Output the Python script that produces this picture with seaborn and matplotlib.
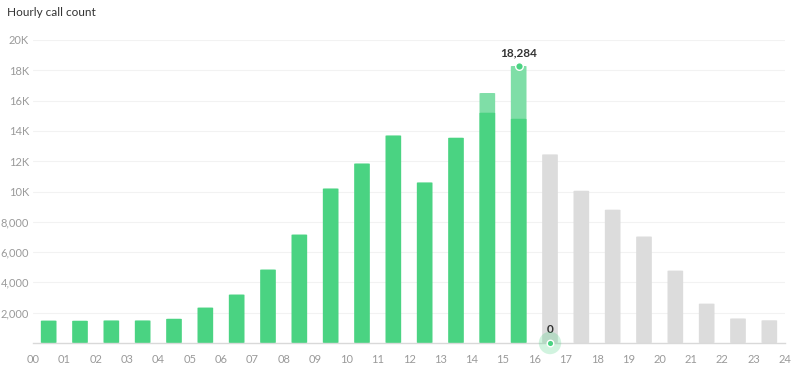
import numpy as np
import pandas as pd
import seaborn as sns
import matplotlib.pyplot as plt
from matplotlib.patches import FancyBboxPatch

# hourly values
hours_actual = list(range(0, 16))
actual = [1480, 1470, 1490, 1490, 1600, 2340, 3200, 4850, 7160, 10200,
          11850, 13700, 10600, 13550, 15200, 14800]
hours_partial = [14, 15]
partial_total = [16500, 18284]
hours_forecast = list(range(16, 24))
forecast = [12450, 10050, 8800, 7030, 4780, 2600, 1620, 1500]

current_hour = 16
current_value = 0
peak_hour = 15
peak_value = 18284

x_ticks = list(range(0, 25))
x_labels = [f"{h:02d}" for h in x_ticks]
y_ticks = [2000, 4000, 6000, 8000, 10000, 12000, 14000, 16000, 18000, 20000]
y_labels = ["2,000", "4,000", "6,000", "8,000", "10K", "12K", "14K", "16K", "18K", "20K"]

green = "#4ad382"
light_green = "#7fdea7"
grey = "#dcdcdc"

sns.set_style("white")
plt.rcParams['font.family'] = ['Lato', 'DejaVu Sans']

fig = plt.figure(figsize=(7.94, 3.65), dpi=100)
ax = fig.add_axes([33 / 794, 1 - 343 / 365, 752 / 794, 303 / 365])

df_a = pd.DataFrame({"hour": np.array(hours_actual) + 0.5, "calls": actual})
df_p = pd.DataFrame({"hour": np.array(hours_partial) + 0.5, "calls": partial_total})
df_f = pd.DataFrame({"hour": np.array(hours_forecast) + 0.5, "calls": forecast})

sns.barplot(data=df_f, x="hour", y="calls", native_scale=True, width=0.5,
            color=grey, saturation=1, ax=ax)
sns.barplot(data=df_p, x="hour", y="calls", native_scale=True, width=0.5,
            color=light_green, saturation=1, ax=ax)
sns.barplot(data=df_a, x="hour", y="calls", native_scale=True, width=0.5,
            color=green, saturation=1, ax=ax)

# rounded bar tops
for p in list(ax.patches):
    x, y = p.get_x(), p.get_y()
    w, h = p.get_width(), p.get_height()
    fc = p.get_facecolor()
    p.remove()
    ax.add_patch(FancyBboxPatch((x, y), w, h, boxstyle="round,pad=0,rounding_size=0.06",
                                mutation_aspect=400, fc=fc, ec="none", zorder=2))

# peak marker
ax.scatter([peak_hour + 0.5], [peak_value], s=30, color=green, edgecolor="white",
           linewidth=1, zorder=5, clip_on=False)
ax.text(peak_hour + 0.5, peak_value + 500, f"{peak_value:,}", ha="center", va="bottom",
        fontsize=8.5, fontweight="bold", color="#333333")

# current hour marker
ax.scatter([current_hour + 0.5], [current_value], s=260, color=green, alpha=0.25,
           edgecolor="none", zorder=4, clip_on=False)
ax.scatter([current_hour + 0.5], [current_value], s=22, color=green, edgecolor="white",
           linewidth=1, zorder=5, clip_on=False)
ax.text(current_hour + 0.5, current_value + 500, f"{current_value}", ha="center", va="bottom",
        fontsize=8.5, fontweight="bold", color="#333333")

ax.set_xlim(0, 24)
ax.set_ylim(0, 20000)
ax.set_xticks(x_ticks)
ax.set_xticklabels(x_labels)
ax.set_yticks(y_ticks)
ax.set_yticklabels(y_labels)
ax.set_xlabel("")
ax.set_ylabel("")
ax.tick_params(axis="both", length=0, colors="#9a9a9a", labelsize=8)
ax.tick_params(axis="x", pad=8)
ax.tick_params(axis="y", pad=3)
ax.grid(axis="y", color="#f2f2f2", linewidth=0.8)
ax.set_axisbelow(True)
for s in ["top", "right", "left"]:
    ax.spines[s].set_visible(False)
ax.spines["bottom"].set_color("#d9d9d9")
ax.spines["bottom"].set_linewidth(1)

fig.text(7 / 794, 1 - 13 / 365, "Hourly call count", fontsize=8.5, color="#333333",
         ha="left", va="center")

fig.savefig("out.png", dpi=100)
